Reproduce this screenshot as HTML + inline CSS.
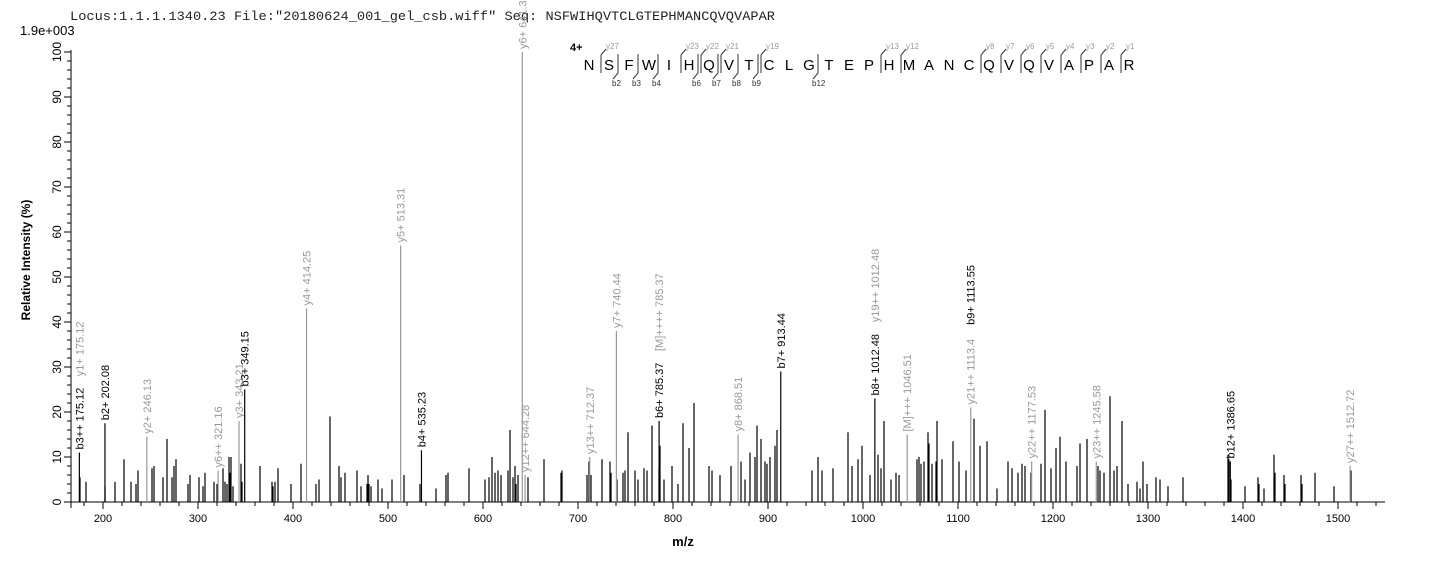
<!DOCTYPE html>
<html><head><meta charset="utf-8"><style>
html,body{margin:0;padding:0;background:#fff;}
svg{display:block;font-family:"Liberation Sans",Arial,sans-serif;}
</style></head><body>
<svg id="s" width="1436" height="562" viewBox="0 0 1436 562" xmlns="http://www.w3.org/2000/svg">
<text x="70" y="20" font-family="Liberation Mono, monospace" font-size="13" textLength="705" lengthAdjust="spacingAndGlyphs" fill="#222">Locus:1.1.1.1340.23 File:"20180624_001_gel_csb.wiff"   Seq: NSFWIHQVTCLGTEPHMANCQVQVAPAR</text>
<text x="20" y="35" font-size="13" fill="#000">1.9e+003</text>
<text transform="translate(30,260) rotate(-90)" text-anchor="middle" font-size="12" font-weight="bold">Relative   Intensity (%)</text>
<text x="683" y="546" text-anchor="middle" font-size="13" font-weight="bold">m/z</text>
<g id="g"></g>
</svg>
<script>
var g=document.getElementById('g'),h='';
function X(m){return 103+(m-200)*0.95;}
function Y(v){return 502-v*4.5;}
h+='<line x1="71" y1="50" x2="71" y2="502" stroke="#000"/>';
h+='<line x1="71" y1="502" x2="1385" y2="502" stroke="#000"/>';
for(var v=0;v<=100;v+=2){var y=Y(v),L=(v%10==0)?7:4;h+='<line x1="'+(71-L)+'" y1="'+y+'" x2="71" y2="'+y+'" stroke="#000"/>';
 if(v%10==0)h+='<text transform="translate(61,'+y+') rotate(-90)" text-anchor="middle" font-size="12">'+v+'</text>';}
for(var m=180;m<=1540;m+=20){var x=X(m),L=(m%100==0)?7:4;h+='<line x1="'+x+'" y1="502" x2="'+x+'" y2="'+(502+L)+'" stroke="#000"/>';
 if(m%100==0)h+='<text x="'+x+'" y="522" text-anchor="middle" font-size="11">'+m+'</text>';}
h+='<line x1="71" y1="502" x2="71" y2="508" stroke="#000"/>';
var P=[80,5.5,86,4.5,105,3.5,115,4.5,124,9.5,131,4.5,136,4,138,7,152,7.5,154,8,163,5.5,167,14,172,5.5,174,8,176,9.5,188,4,190,6,199,5.5,203,3.5,205,6.5,214,4.5,217,4,223,7.5,225,4.5,227,4,229,10,230,6.5,231,10,233,3.5,241,8.5,242,4.5,260,8,272,4.5,273,3.5,275,4.5,278,7.5,291,4,301,8.5,316,4,319,5,330,19,339,8,341,5.5,345,6.5,357,7,361,3.5,367,4,368,6,369,4,371,3.5,378,5,382,3,392,5,404,6,420,4,436,3,446,6,448,6.5,469,7.5,485,5,489,5.5,492,10,495,6.5,498,7,501,6,508,7,510,16,513,5.5,515,8,516,4,518,6,528,5.5,544,9.5,561,6.5,562,7,587,6,589,9,591,6,602,9.5,610,9,611,6.5,617,5,623,6.5,625,7,628,15.5,635,7,638,5,644,7.5,647,7,652,17,659,7.5,660,12.5,664,5,672,8,678,4,683,17.5,689,12,694,22,709,8,712,7,720,6,731,8,741,9,745,5,750,11,755,10,757,17,761,14,765,9,767,8.5,770,10,775,12.5,777,16,812,7,818,10,822,7,833,7.5,848,15.5,852,8,858,9.5,862,12.5,870,6,878,10.5,881,7.5,884,18,891,5,896,6.5,899,6,917,9.5,919,10,921,8.5,924,9,928,15.5,929,13,932,8.5,936,9,937,18,942,9.5,953,13.5,959,9,966,7,974,18.5,980,12.5,987,13.5,997,3,1008,9,1012,7.5,1018,6.5,1022,8.5,1025,8,1031,6.5,1041,8.5,1045,20.5,1051,7.5,1056,12,1060,14.5,1066,9,1077,8,1080,13,1087,14,1098,8,1100,7,1104,6.5,1110,23.5,1114,7,1117,8,1122,18,1128,4,1137,4.5,1140,3,1143,9,1147,4,1156,5.5,1160,5,1168,3.5,1183,5.5,1228,10.5,1229,9.5,1231,5,1245,3.5,1258,5.5,1259,4,1264,3,1274,10.5,1275,6.5,1284,6,1285,4,1301,6,1302,4,1315,6.5,1334,3.5,1351,7];
for(var i=0;i<P.length;i+=2)h+='<line x1="'+P[i]+'" y1="502" x2="'+P[i]+'" y2="'+Y(P[i+1])+'" stroke="#000" stroke-width="1.2"/>';
var A=[[175.12,11,'k',[['b3++ 175.12','k'],['y1+ 175.12','g']]],[202.08,17.5,'k',[['b2+ 202.08','k']]],[246.13,14.5,'g',[['y2+ 246.13','g']]],
[321.16,7,'g',[['y6++ 321.16','g']]],[343.21,18,'g',[['y3+ 343.21','g']]],[349.15,25,'k',[['b3+ 349.15','k']]],[414.25,43,'g',[['y4+ 414.25','g']]],
[513.31,57,'g',[['y5+ 513.31','g']]],[535.23,11.5,'k',[['b4+ 535.23','k']]],[641.35,100,'g',[['y6+ 641.35','g']]],[644.28,6,'g',[['y12++ 644.28','g']]],
[712.37,10,'g',[['y13++ 712.37','g']]],[740.44,38,'g',[['y7+ 740.44','g']]],[785.37,18,'k',[['b6+ 785.37','k'],['[M]++++ 785.37','g']]],
[868.51,15,'g',[['y8+ 868.51','g']]],[913.44,29,'k',[['b7+ 913.44','k']]],[1012.48,23,'k',[['b8+ 1012.48','k'],['y19++ 1012.48','g']]],
[1046.51,15,'g',[['[M]+++ 1046.51','g']]],[1113.4,21,'g',[['y21++ 1113.4','g'],['b9+ 1113.55','k']]],[1177.53,9,'g',[['y22++ 1177.53','g']]],
[1245.58,9,'g',[['y23++ 1245.58','g']]],[1386.65,9,'k',[['b12+ 1386.65','k']]],[1512.72,8,'g',[['y27++ 1512.72','g']]]];
for(var i=0;i<A.length;i++){var a=A[i],x=X(a[0]),c=a[2]=='k'?'#000':'#999';
 h+='<line x1="'+x+'" y1="502" x2="'+x+'" y2="'+Y(a[1])+'" stroke="'+c+'" stroke-width="1.2"/>';
 var y0=Y(a[1])-3;
 for(var j=0;j<a[3].length;j++){var t=a[3][j],w=t[0].length*6.3;
  h+='<text transform="translate('+(x+4)+','+y0+') rotate(-90)" font-size="11" fill="'+(t[1]=='k'?'#000':'#999')+'">'+t[0]+'</text>';y0-=w+4;}}
var S='NSFWIHQVTCLGTEPHMANCQVQVAPAR',x0=589,st=20;
for(var i=0;i<S.length;i++)h+='<text x="'+(x0+i*st)+'" y="70" text-anchor="middle" font-size="15">'+S[i]+'</text>';
h+='<text x="570" y="51" font-size="11" font-weight="bold">4+</text>';
var yi={1:27,5:23,6:22,7:21,9:19,15:13,16:12,20:8,21:7,22:6,23:5,24:4,25:3,26:2,27:1};
for(var k in yi){var bx=x0+k*st-10+2;h+='<path d="M'+bx+' 73 V55 L'+(bx+5)+' 49" fill="none" stroke="#333"/>';
 h+='<text x="'+(bx+5)+'" y="49" font-size="8" fill="#999">y'+yi[k]+'</text>';}
var bi={1:2,2:3,3:4,5:6,6:7,7:8,8:9,11:12};
for(var k in bi){var bx=x0+k*st+10-1;h+='<path d="M'+bx+' 54 V73 L'+(bx-5)+' 79" fill="none" stroke="#333"/>';
 h+='<text x="'+(bx-6)+'" y="86" font-size="8" fill="#333">b'+bi[k]+'</text>';}
g.innerHTML=h;
</script>
</body></html>
